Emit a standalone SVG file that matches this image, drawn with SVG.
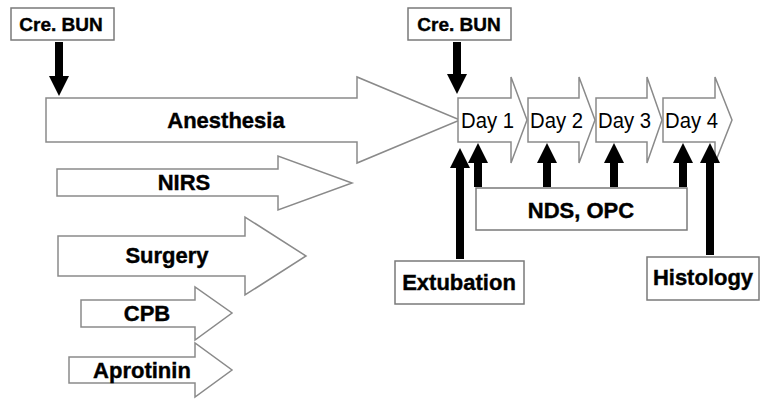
<svg xmlns="http://www.w3.org/2000/svg" width="760" height="401" viewBox="0 0 760 401">
<style>
.shape{fill:#fff;stroke:#8a8a8a;stroke-width:1.5}
.box{fill:#fff;stroke:#7a7a7a;stroke-width:1.5}
.b{font-family:"Liberation Sans",Arial,sans-serif;font-weight:bold;fill:#000;text-anchor:middle;stroke:#000;stroke-width:0.4}
.r{font-family:"Liberation Sans",Arial,sans-serif;fill:#000;font-size:22px}
.con{stroke:#000;stroke-width:8;fill:none;marker-end:url(#ah)}
</style>
<defs>
<marker id="ah" markerUnits="userSpaceOnUse" viewBox="0 0 20 20" markerWidth="20" markerHeight="20" refX="0" refY="10" orient="auto">
<path d="M0,0 L20,10 L0,20 Z" fill="#000"/>
</marker>
</defs>
<rect width="760" height="401" fill="#fff"/>
<g id="anesthesia"><path class="shape" d="M46,98 H357 V77 L460,120 L357,163 V142 H46 Z"/><text class="b" x="226" y="128" font-size="22">Anesthesia</text></g>
<g id="nirs"><path class="shape" d="M57,169 H278 V156 L352,183 L278,210 V196 H57 Z"/><text class="b" x="184" y="190" font-size="22">NIRS</text></g>
<g id="surgery"><path class="shape" d="M58,236 H245 V217 L306,256 L245,295 V276 H58 Z"/><text class="b" x="167" y="263" font-size="22">Surgery</text></g>
<g id="cpb"><path class="shape" d="M81,300 H195 V287 L232,313 L195,340 V327 H81 Z"/><text class="b" x="147" y="321" font-size="22">CPB</text></g>
<g id="aprotinin"><path class="shape" d="M69,357 H195 V343 L232,370 L195,397 V383 H69 Z"/><text class="b" x="142" y="378" font-size="22">Aprotinin</text></g>
<g id="day1"><path class="shape" d="M458,98 H511 V77 L527,120 L511,163 V142 H458 Z"/><text class="r" x="461" y="128" textLength="53" lengthAdjust="spacingAndGlyphs">Day 1</text></g>
<g id="day2"><path class="shape" d="M528,98 H579 V77 L595,120 L579,163 V142 H528 Z"/><text class="r" x="530" y="128" textLength="53" lengthAdjust="spacingAndGlyphs">Day 2</text></g>
<g id="day3"><path class="shape" d="M596,98 H647 V77 L662,120 L647,163 V142 H596 Z"/><text class="r" x="598" y="128" textLength="53" lengthAdjust="spacingAndGlyphs">Day 3</text></g>
<g id="day4"><path class="shape" d="M663,98 H715 V77 L732,120 L715,163 V142 H663 Z"/><text class="r" x="665" y="128" textLength="53" lengthAdjust="spacingAndGlyphs">Day 4</text></g>
<g id="crebun1"><rect class="box" x="11" y="8" width="103" height="32"/><text class="b" x="61" y="31" font-size="19">Cre. BUN</text></g>
<g id="crebun2"><rect class="box" x="408" y="8" width="103" height="32"/><text class="b" x="459" y="31" font-size="19">Cre. BUN</text></g>
<g id="ndsopc"><rect class="box" x="476" y="188" width="211" height="42"/><text class="b" x="581" y="218" font-size="22">NDS, OPC</text></g>
<g id="extubation"><rect class="box" x="395" y="261" width="129" height="43"/><text class="b" x="459" y="290" font-size="22">Extubation</text></g>
<g id="histology"><rect class="box" x="647" y="257" width="112" height="43"/><text class="b" x="703" y="285" font-size="22">Histology</text></g>
<g id="connectors">
<line class="con" x1="59" y1="42" x2="59" y2="76"/>
<line class="con" x1="457" y1="42" x2="457" y2="74"/>
<line class="con" x1="460" y1="259" x2="460" y2="168"/>
<line class="con" x1="478" y1="187" x2="478" y2="163"/>
<line class="con" x1="547" y1="187" x2="547" y2="163"/>
<line class="con" x1="614" y1="187" x2="614" y2="163"/>
<line class="con" x1="683" y1="187" x2="683" y2="163"/>
<line class="con" x1="710" y1="255" x2="710" y2="163"/>
</g>
</svg>
